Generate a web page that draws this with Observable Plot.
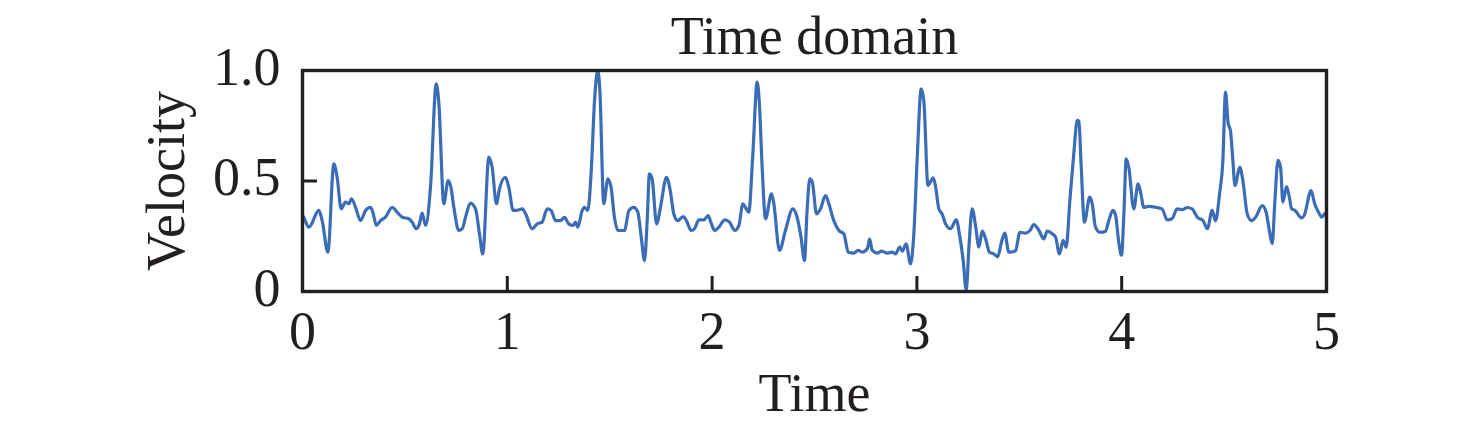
<!DOCTYPE html>
<html>
<head>
<meta charset="utf-8">
<script src="https://cdn.jsdelivr.net/npm/d3@7"></script>
<script src="https://cdn.jsdelivr.net/npm/@observablehq/plot@0.6"></script>
<style>
  html, body { margin: 0; padding: 0; background: #ffffff; }
  #chart { width: 1476px; height: 431px; }
</style>
</head>
<body>
<div id="chart"></div>
<script>
const titleText = "Time domain";
const xLabel = "Time";
const yLabel = "Velocity";

const xTicks = [0, 1, 2, 3, 4, 5];
const xTickLabels = ["0", "1", "2", "3", "4", "5"];
const yTicks = [0, 0.5, 1.0];
const yTickLabels = ["0", "0.5", "1.0"];

const time = [
  0.000, 0.006, 0.031, 0.080, 0.096, 0.124, 0.153, 0.169, 0.189, 0.210, 0.226, 0.239, 0.259, 0.283, 0.308, 0.332, 0.343, 0.361, 0.381, 0.405,
  0.438, 0.462, 0.487, 0.519, 0.535, 0.555, 0.571, 0.584, 0.601, 0.625, 0.653, 0.666, 0.690, 0.711, 0.725, 0.739, 0.763, 0.780, 0.796, 0.820,
  0.845, 0.864, 0.880, 0.910, 0.926, 0.947, 0.962, 0.991, 1.007, 1.029, 1.045, 1.073, 1.090, 1.121, 1.146, 1.170, 1.195, 1.214, 1.235, 1.260,
  1.279, 1.300, 1.321, 1.333, 1.344, 1.366, 1.377, 1.393, 1.410, 1.426, 1.442, 1.452, 1.471, 1.491, 1.507, 1.523, 1.540, 1.572, 1.594, 1.618,
  1.637, 1.654, 1.670, 1.683, 1.694, 1.707, 1.729, 1.748, 1.777, 1.794, 1.813, 1.832, 1.859, 1.875, 1.898, 1.914, 1.935, 1.960, 1.981, 1.995,
  2.013, 2.032, 2.062, 2.085, 2.111, 2.131, 2.150, 2.163, 2.179, 2.199, 2.220, 2.231, 2.244, 2.261, 2.290, 2.301, 2.329, 2.358, 2.394, 2.415,
  2.434, 2.451, 2.464, 2.477, 2.489, 2.510, 2.529, 2.554, 2.570, 2.594, 2.619, 2.643, 2.665, 2.692, 2.713, 2.733, 2.758, 2.769, 2.782, 2.806,
  2.828, 2.855, 2.880, 2.896, 2.916, 2.929, 2.947, 2.969, 2.985, 3.001, 3.021, 3.034, 3.054, 3.080, 3.092, 3.107, 3.123, 3.140, 3.164, 3.192,
  3.210, 3.226, 3.241, 3.254, 3.270, 3.286, 3.303, 3.319, 3.335, 3.354, 3.375, 3.395, 3.411, 3.429, 3.449, 3.481, 3.503, 3.530, 3.552, 3.571,
  3.596, 3.620, 3.636, 3.661, 3.677, 3.696, 3.714, 3.729, 3.747, 3.766, 3.783, 3.791, 3.802, 3.818, 3.844, 3.856, 3.872, 3.893, 3.921, 3.937,
  3.957, 3.970, 3.986, 3.999, 4.011, 4.022, 4.035, 4.059, 4.080, 4.092, 4.108, 4.132, 4.165, 4.197, 4.222, 4.246, 4.271, 4.295, 4.320, 4.344,
  4.369, 4.397, 4.418, 4.442, 4.458, 4.478, 4.494, 4.507, 4.520, 4.531, 4.543, 4.553, 4.577, 4.592, 4.613, 4.634, 4.654, 4.686, 4.705, 4.722,
  4.735, 4.748, 4.763, 4.776, 4.787, 4.805, 4.818, 4.830, 4.846, 4.878, 4.891, 4.925, 4.942, 4.961, 4.977, 4.995, 5.000
];

const velocity = [
  0.345, 0.336, 0.291, 0.367, 0.321, 0.178, 0.578, 0.517, 0.374, 0.404, 0.397, 0.419, 0.381, 0.321, 0.367, 0.381, 0.360, 0.299, 0.321, 0.336,
  0.381, 0.359, 0.336, 0.329, 0.314, 0.284, 0.306, 0.355, 0.299, 0.472, 0.940, 0.849, 0.397, 0.502, 0.470, 0.381, 0.276, 0.284, 0.336, 0.400,
  0.374, 0.261, 0.170, 0.608, 0.562, 0.397, 0.465, 0.517, 0.472, 0.367, 0.367, 0.374, 0.350, 0.284, 0.306, 0.314, 0.374, 0.367, 0.321, 0.321,
  0.336, 0.306, 0.299, 0.314, 0.291, 0.367, 0.381, 0.367, 0.548, 0.864, 1.000, 0.909, 0.397, 0.510, 0.470, 0.336, 0.276, 0.276, 0.367, 0.381,
  0.360, 0.246, 0.140, 0.320, 0.532, 0.510, 0.306, 0.381, 0.517, 0.465, 0.351, 0.321, 0.339, 0.320, 0.276, 0.284, 0.324, 0.324, 0.344, 0.310,
  0.276, 0.290, 0.324, 0.314, 0.276, 0.299, 0.397, 0.380, 0.359, 0.623, 0.947, 0.849, 0.570, 0.329, 0.442, 0.400, 0.186, 0.276, 0.374, 0.336,
  0.246, 0.140, 0.370, 0.510, 0.496, 0.351, 0.374, 0.434, 0.397, 0.321, 0.276, 0.261, 0.178, 0.174, 0.186, 0.178, 0.193, 0.238, 0.186, 0.174,
  0.183, 0.174, 0.178, 0.170, 0.201, 0.183, 0.216, 0.125, 0.261, 0.593, 0.917, 0.860, 0.480, 0.514, 0.470, 0.374, 0.351, 0.306, 0.284, 0.324,
  0.246, 0.140, 0.005, 0.200, 0.374, 0.299, 0.201, 0.273, 0.240, 0.178, 0.170, 0.158, 0.216, 0.264, 0.178, 0.183, 0.268, 0.264, 0.276, 0.303,
  0.276, 0.238, 0.273, 0.261, 0.246, 0.170, 0.231, 0.200, 0.412, 0.623, 0.774, 0.770, 0.570, 0.314, 0.427, 0.397, 0.291, 0.268, 0.273, 0.321,
  0.367, 0.345, 0.220, 0.163, 0.360, 0.600, 0.560, 0.374, 0.487, 0.450, 0.381, 0.385, 0.381, 0.374, 0.324, 0.330, 0.374, 0.370, 0.380, 0.374,
  0.336, 0.321, 0.284, 0.367, 0.320, 0.442, 0.593, 0.902, 0.760, 0.729, 0.590, 0.480, 0.562, 0.500, 0.351, 0.321, 0.336, 0.389, 0.360, 0.270,
  0.216, 0.410, 0.593, 0.560, 0.404, 0.475, 0.430, 0.374, 0.367, 0.333, 0.344, 0.457, 0.397, 0.359, 0.336, 0.355, 0.350
];

const series = time.map((t, i) => ({t, v: velocity[i]}));

const ink = "#231f20";
const lineColor = "#3a6db5";

const chart = Plot.plot({
  width: 1476,
  height: 431,
  marginLeft: 302,
  marginRight: 150,
  marginTop: 70,
  marginBottom: 140,
  style: {
    fontFamily: "'Liberation Serif', 'Times New Roman', Times, serif",
    fontSize: "54px",
    background: "#ffffff",
    color: ink
  },
  x: {domain: [0, 5], label: null},
  y: {domain: [0, 1], label: null},
  marks: [
    Plot.line(series, {x: "t", y: "v", stroke: lineColor, strokeWidth: 3.2, curve: "monotone-x", strokeLinejoin: "round"}),
    Plot.axisX(xTicks, {tickSize: -15, text: null, stroke: ink, strokeWidth: 3, label: null}),
    Plot.axisX(xTicks, {tickSize: 0, tickPadding: 19, tickFormat: d => xTickLabels[xTicks.indexOf(d)], fill: ink, fontSize: 54, label: null}),
    Plot.axisY(yTicks, {tickSize: -15, text: null, stroke: ink, strokeWidth: 3, label: null}),
    Plot.axisY(yTicks, {tickSize: 0, tickPadding: 22, dy: -3, tickFormat: d => yTickLabels[yTicks.indexOf(d)], fill: ink, fontSize: 54, label: null}),
    Plot.frame({stroke: ink, strokeWidth: 3.4}),
    Plot.text([titleText], {text: d => d, frameAnchor: "top", textAnchor: "middle", lineAnchor: "top", dy: -55, fontSize: 54, fill: ink}),
    Plot.text([xLabel], {text: d => d, frameAnchor: "bottom", textAnchor: "middle", lineAnchor: "top", dy: 81, fontSize: 54, fill: ink}),
    Plot.text([yLabel], {text: d => d, frameAnchor: "left", textAnchor: "middle", lineAnchor: "top", rotate: -90, dx: -157, fontSize: 54, fill: ink})
  ]
});

document.getElementById("chart").appendChild(chart);
</script>
</body>
</html>
